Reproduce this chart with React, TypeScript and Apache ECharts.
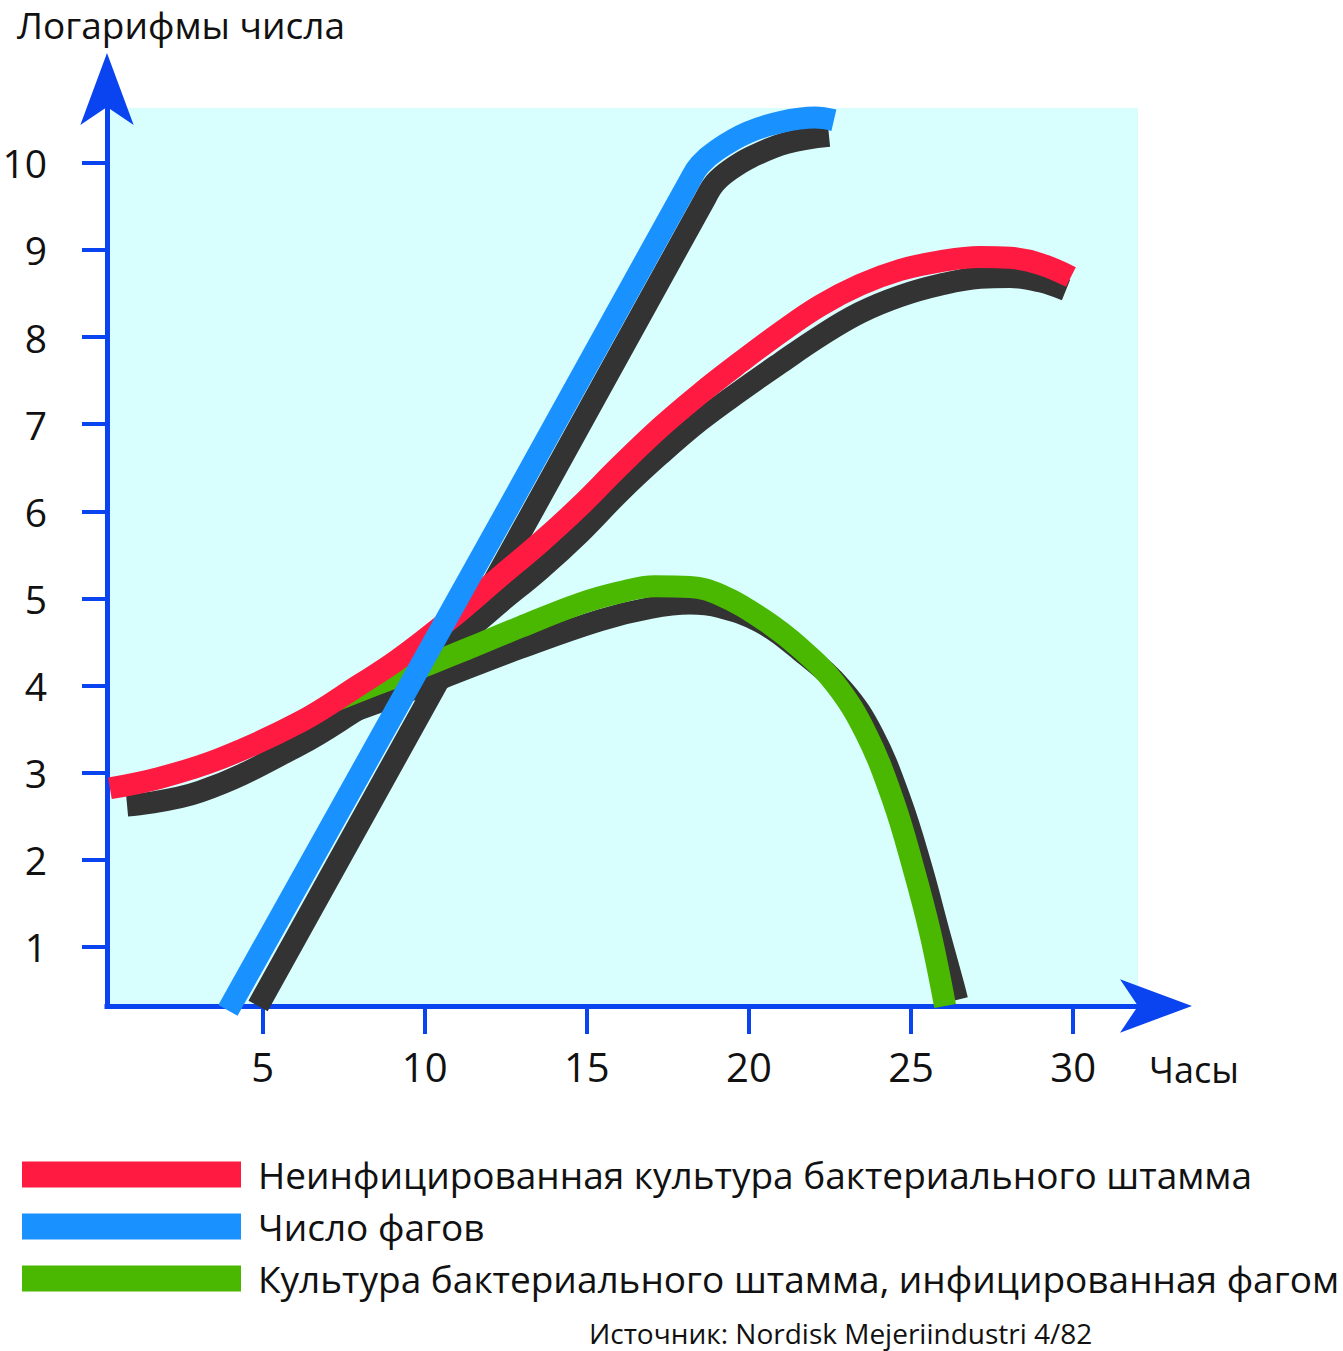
import React, { useEffect, useRef } from 'react';
import * as echarts from 'echarts';

const FONT = '"Open Sans", "Noto Sans", sans-serif';
const RED = '#ff1a42';
const BLUE = '#1991ff';
const GREEN = '#4ab801';
const SHADOW = '#333333';
const AXIS = '#0a44f0';
const BG = '#d8fefe';
const TEXT = '#111111';

const TITLE = 'Логарифмы числа';
const X_NAME = 'Часы';
const SOURCE = 'Источник: Nordisk Mejeriindustri 4/82';
const RED_NAME = 'Неинфицированная культура бактериального штамма';
const BLUE_NAME = 'Число фагов';
const GREEN_NAME = 'Культура бактериального штамма, инфицированная фагом';

const xTicks = [5, 10, 15, 20, 25, 30];
const yTicks = [1, 2, 3, 4, 5, 6, 7, 8, 9, 10];

// [hours, log number]
const redLine = [
  [0.29, 2.82], [1.83, 2.94], [3.69, 3.16], [6.15, 3.58], [8.0, 4.01], [9.15, 4.29],
  [10.78, 4.76], [12.32, 5.25], [13.56, 5.64], [14.79, 6.06], [16.02, 6.52], [17.26, 6.96],
  [18.49, 7.35], [19.73, 7.71], [20.96, 8.05], [22.19, 8.36], [23.43, 8.6], [24.66, 8.77],
  [25.89, 8.87], [27.13, 8.92], [28.05, 8.91], [28.98, 8.84], [29.93, 8.69],
];
const redShadow = [
  [0.82, 2.62], [3.07, 2.78], [6.15, 3.32], [8.0, 3.74], [9.24, 4.03], [10.78, 4.46],
  [12.32, 4.95], [13.56, 5.33], [14.79, 5.75], [16.02, 6.22], [17.26, 6.65], [18.49, 7.04],
  [19.73, 7.38], [20.96, 7.7], [22.19, 8.01], [23.43, 8.28], [24.66, 8.47], [25.89, 8.6],
  [27.13, 8.68], [28.05, 8.69], [28.98, 8.64], [29.78, 8.54],
];
const blueLine = [
  [3.93, 0.27], [12.54, 6.01], [18.18, 9.8], [18.49, 9.98], [19.02, 10.15], [19.97, 10.35],
  [20.99, 10.47], [22.04, 10.52], [22.62, 10.49],
];
const blueShadow = [
  [4.86, 0.32], [13.34, 6.01], [18.68, 9.61], [18.95, 9.77], [19.42, 9.92], [20.09, 10.07],
  [21.17, 10.23], [22.47, 10.31],
];
const greenLine = [
  [7.26, 3.83], [8.62, 4.03], [9.85, 4.2], [10.78, 4.34], [11.71, 4.48], [12.94, 4.67],
  [14.79, 4.94], [16.02, 5.07], [17.1, 5.14], [18.18, 5.13], [19.11, 5.04], [20.43, 4.76],
  [21.58, 4.43], [22.66, 4.02], [23.61, 3.45], [24.44, 2.69], [25.06, 1.92], [25.59, 1.16],
  [26.05, 0.32],
];
const greenShadow = [
  [7.76, 3.7], [9.24, 3.9], [10.56, 4.09], [12.94, 4.43], [15.41, 4.75], [16.95, 4.89],
  [18.18, 4.94], [19.11, 4.9], [20.34, 4.73], [21.58, 4.4], [22.9, 3.95], [23.83, 3.43],
  [24.66, 2.69], [25.31, 1.92], [25.86, 1.16], [26.29, 0.58], [26.42, 0.39],
];

function lineSeries(name: string, data: number[][], color: string) {
  return {
    name,
    type: 'line',
    data,
    smooth: 0.4,
    symbol: 'none',
    showSymbol: false,
    clip: false,
    silent: true,
    color,
    itemStyle: { color, borderWidth: 0 },
    lineStyle: { color, width: 22, cap: 'butt', join: 'round' },
  };
}

export default function App() {
  const ref = useRef<HTMLDivElement>(null);

  useEffect(() => {
    document.body.style.margin = '0';
    const chart = echarts.init(ref.current as HTMLDivElement, null, { renderer: 'svg' });
    chart.setOption({
      animation: false,
      grid: {
        left: 107,
        right: 205,
        top: 108,
        bottom: 345,
        show: true,
        backgroundColor: BG,
        borderWidth: 0,
        containLabel: false,
        outerBoundsMode: 'none',
      },
      xAxis: {
        type: 'value',
        min: 0.2,
        max: 32,
        axisLine: {
          show: true,
          onZero: false,
          symbol: ['none', 'arrow'],
          symbolSize: [40, 72],
          symbolOffset: [0, 54],
          lineStyle: { color: AXIS, width: 5, cap: 'square' },
        },
        axisTick: { show: true, length: 28, customValues: xTicks, lineStyle: { color: AXIS, width: 4 } },
        axisLabel: { customValues: xTicks, margin: 40, fontSize: 40, fontFamily: FONT, color: TEXT },
        splitLine: { show: false },
      },
      yAxis: {
        type: 'value',
        min: 0.32,
        max: 10.63,
        axisLine: {
          show: true,
          onZero: false,
          symbol: ['none', 'arrow'],
          symbolSize: [40, 72],
          symbolOffset: [0, 55],
          lineStyle: { color: AXIS, width: 5, cap: 'square' },
        },
        axisTick: { show: true, length: 25, customValues: yTicks, lineStyle: { color: AXIS, width: 4 } },
        axisLabel: { customValues: yTicks, margin: 60, fontSize: 39, fontFamily: FONT, color: TEXT },
        splitLine: { show: false },
      },
      legend: {
        data: [RED_NAME, BLUE_NAME, GREEN_NAME],
        orient: 'vertical',
        left: 22,
        top: 1156,
        padding: 0,
        itemWidth: 219,
        itemHeight: 26,
        itemGap: 15,
        icon: 'rect',
        selectedMode: false,
        itemStyle: { borderWidth: 0 },
        textStyle: { fontFamily: FONT, fontSize: 37, color: TEXT, padding: [0, 0, 0, 12] },
      },
      graphic: [
        {
          type: 'text',
          x: 17,
          y: 24,
          silent: true,
          style: { text: TITLE, fontSize: 37, fontFamily: FONT, fill: TEXT, align: 'left', verticalAlign: 'middle' },
        },
        {
          type: 'text',
          x: 1149,
          y: 1069,
          silent: true,
          style: { text: X_NAME, fontSize: 36, fontFamily: FONT, fill: TEXT, align: 'left', verticalAlign: 'middle' },
        },
        {
          type: 'text',
          x: 589,
          y: 1333,
          silent: true,
          style: { text: SOURCE, fontSize: 28, fontFamily: FONT, fill: TEXT, align: 'left', verticalAlign: 'middle' },
        },
      ],
      series: [
        lineSeries('shadow-red', redShadow, SHADOW),
        lineSeries('shadow-blue', blueShadow, SHADOW),
        lineSeries('shadow-green', greenShadow, SHADOW),
        lineSeries(GREEN_NAME, greenLine, GREEN),
        lineSeries(RED_NAME, redLine, RED),
        lineSeries(BLUE_NAME, blueLine, BLUE),
      ],
    });
    return () => chart.dispose();
  }, []);

  return <div ref={ref} style={{ width: 1343, height: 1351 }} />;
}
